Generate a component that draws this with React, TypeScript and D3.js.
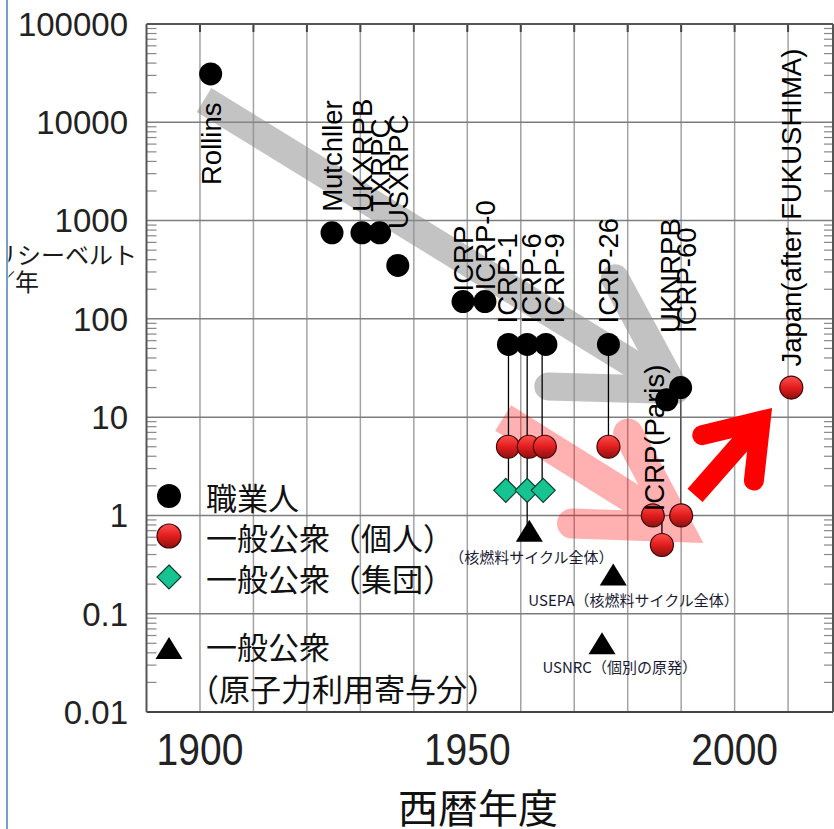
import React from "react";
import * as d3 from "d3";

const W = 834;
const H = 829;

// 職業人 (occupational limits)
const occNames = ["Rollins", "Mutchller", "UKXRPB", "TXRPC", "USXRPC", "ICRP", "ICRP-0", "ICRP-1", "ICRP-6", "ICRP-9", "ICRP-26", "UKNRPB", "ICRP-60"];
const occYears = [1902, 1924.7, 1930.3, 1933.6, 1937, 1949.2, 1953.3, 1957.7, 1961.2, 1964.7, 1976.4, 1987.3, 1989.9];
const occValues = [31000, 750, 750, 750, 350, 150, 150, 55, 55, 55, 55, 15, 20];

// 一般公衆（個人）
const pubNames = ["ICRP-1", "ICRP-6", "ICRP-9", "ICRP-26", "ICRP(Paris)", "UKNRPB", "ICRP-60", "Japan"];
const pubYears = [1957.6, 1961.5, 1964.5, 1976.4, 1984.7, 1986.4, 1990, 2010.6];
const pubValues = [5, 5, 5, 5, 1, 0.5, 1, 20];

// 一般公衆（集団）
const colYears = [1957.2, 1961.2, 1964.2];
const colValues = [1.8, 1.8, 1.8];

// 一般公衆（原子力利用寄与分）
const triNames = ["（核燃料サイクル全体）", "USEPA（核燃料サイクル全体）", "USNRC（個別の原発）"];
const triYears = [1961.6, 1977.3, 1975.2];
const triValues = [0.7, 0.25, 0.05];
const triLabelYears = [1962, 1981.1, 1978.5];
const triLabelValues = [0.38, 0.14, 0.029];

// connectors: year, from value, to value
const connYears = [1957.7, 1961.2, 1964.0, 1976.4, 1989.9, 1986.4];
const connFrom = [55, 55, 55, 55, 20, 1];
const connTo = [1.8, 0.7, 1.8, 5, 1, 0.5];

// rotated labels: text, year, value where text begins (null = just above point)
const labelTexts = ["Rollins", "Mutchller", "UKXRPB", "TXRPC", "USXRPC", "ICRP", "ICRP-0", "ICRP-1", "ICRP-6", "ICRP-9", "ICRP-26", "UKNRPB", "ICRP-60", "ICRP(Paris)", "Japan(after FUKUSHIMA)"];
const labelYears = [1902, 1924.7, 1930.3, 1933.6, 1937, 1949.2, 1953.3, 1957.5, 1962, 1966.3, 1976.4, 1987.9, 1990.9, 1985, 2010.6];
const labelPointValues = [31000, 750, 750, 750, 350, 150, 150, 55, 55, 55, 55, 15, 20, 1, 20];
const labelStarts: (number | null)[] = [2300, null, null, null, 820, 190, 195, null, null, null, null, 72, 72, 1.1, null];

// trend arrows (year, value)
const arrowStarts = [[1900.76, 16870], [1956.7, 9.8], [1992.6, 1.6]];
const arrowTips = [[1988.9, 18.9], [1989.4, 0.76], [2004.85, 9.14]];
const arrowWidths = [28, 30, 20];
const arrowColors = ["#8c8c8c", "#ff0000", "#ff0000"];
const arrowOpacity = [0.52, 0.3, 1];
const arrowWing = [127, 106, 60];
const arrowAngle = [30, 30, 35];
const arrowJoin = ["round", "miter", "miter"];

const xTicks = [1900, 1950, 2000];
const yTicks = [100000, 10000, 1000, 100, 10, 1, 0.1, 0.01];
const yTickLabels = ["100000", "10000", "1000", "100", "10", "1", "0.1", "0.01"];
const gridYears = d3.range(1900, 2011, 10);

const legendLabels = ["職業人", "一般公衆（個人）", "一般公衆（集団）", "一般公衆", "（原子力利用寄与分）"];

const x = d3.scaleLinear().domain([1890, 2018.4]).range([146.5, 833]);
const y = d3.scaleLog().domain([0.01, 100000]).range([712, 24]);

const LATIN = "'Liberation Sans', Arial, Helvetica, sans-serif";
const CJK = "'Noto Sans CJK JP', 'Noto Sans', sans-serif";

function arrowGeom(i: number) {
  const s = [x(arrowStarts[i][0]), y(arrowStarts[i][1])];
  const t = [x(arrowTips[i][0]), y(arrowTips[i][1])];
  const dx = s[0] - t[0];
  const dy = s[1] - t[1];
  const len = Math.hypot(dx, dy);
  const ux = dx / len;
  const uy = dy / len;
  const a = (arrowAngle[i] * Math.PI) / 180;
  const L = arrowWing[i];
  const w1 = [t[0] + L * (ux * Math.cos(a) - uy * Math.sin(a)), t[1] + L * (ux * Math.sin(a) + uy * Math.cos(a))];
  const w2 = [t[0] + L * (ux * Math.cos(-a) - uy * Math.sin(-a)), t[1] + L * (ux * Math.sin(-a) + uy * Math.cos(-a))];
  return {
    shaft: `M${s[0]},${s[1]}L${t[0]},${t[1]}`,
    head: `M${w1[0]},${w1[1]}L${t[0]},${t[1]}L${w2[0]},${w2[1]}`,
  };
}

function Arrow({ i }: { i: number }) {
  const g = arrowGeom(i);
  return (
    <g opacity={arrowOpacity[i]}>
      <path d={g.shaft} stroke={arrowColors[i]} strokeWidth={arrowWidths[i]} fill="none" strokeLinecap="butt" />
      <path d={g.head} stroke={arrowColors[i]} strokeWidth={arrowWidths[i]} fill="none" strokeLinecap="round" strokeLinejoin={arrowJoin[i] as any} strokeMiterlimit={6} />
    </g>
  );
}

const triPath = (cx: number, cy: number) => `M${cx},${cy - 11}L${cx + 13.5},${cy + 11}L${cx - 13.5},${cy + 11}Z`;
const diaPath = (cx: number, cy: number) => `M${cx},${cy - 12}L${cx + 12},${cy}L${cx},${cy + 12}L${cx - 12},${cy}Z`;

export default function App() {
  const minorVals: number[] = [];
  for (let e = -2; e <= 4; e++) for (let m = 2; m <= 9; m++) minorVals.push(m * Math.pow(10, e));

  return (
    <div style={{ position: "absolute", left: 0, top: 0, width: W, height: H, overflow: "hidden", background: "#fff" }}>
      <svg width={W} height={H} style={{ display: "block" }}>
        <defs>
          <linearGradient id="redGrad" x1="0" y1="0" x2="0" y2="1">
            <stop offset="0" stopColor="#ff5050" />
            <stop offset="0.5" stopColor="#e21d1d" />
            <stop offset="1" stopColor="#8e1010" />
          </linearGradient>
          <clipPath id="leftClip">
            <rect x={8.5} y={0} width={300} height={H} />
          </clipPath>
        </defs>
        <rect x={0} y={0} width={W} height={H} fill="#fff" />
        <line x1={7} x2={7} y1={0} y2={H} stroke="#4a7ebb" strokeWidth={1.5} />

        {/* grid */}
        {gridYears.map((yr) => (
          <line key={"vg" + yr} x1={x(yr)} x2={x(yr)} y1={24} y2={712} stroke="#a3a3a3" strokeWidth={1.5} />
        ))}
        {yTicks.slice(1, -1).map((v) => (
          <line key={"hg" + v} x1={146.5} x2={833} y1={y(v)} y2={y(v)} stroke="#7d7d7d" strokeWidth={1.5} />
        ))}
        {minorVals.map((v) => (
          <g key={"mt" + v}>
            <line x1={146.5} x2={156.5} y1={y(v)} y2={y(v)} stroke="#888" strokeWidth={1.2} />
            <line x1={833} x2={824} y1={y(v)} y2={y(v)} stroke="#888" strokeWidth={1.2} />
          </g>
        ))}
        {gridYears.map((yr) => (
          <line key={"tt" + yr} x1={x(yr)} x2={x(yr)} y1={24} y2={32} stroke="#444" strokeWidth={2} />
        ))}
        {/* frame */}
        <line x1={146.5} x2={833} y1={24} y2={24} stroke="#555" strokeWidth={2} />
        <line x1={146.5} x2={833} y1={712} y2={712} stroke="#444" strokeWidth={2} />
        <line x1={146.5} x2={146.5} y1={24} y2={712} stroke="#555" strokeWidth={2} />
        <line x1={833} x2={833} y1={24} y2={712} stroke="#555" strokeWidth={2} />

        {/* trend arrows behind markers */}
        <Arrow i={0} />
        <Arrow i={1} />
        <Arrow i={2} />

        {/* connectors */}
        {connYears.map((yr, i) => (
          <line key={"c" + i} x1={x(yr)} x2={x(yr)} y1={y(connFrom[i])} y2={y(connTo[i])} stroke={i === 4 ? "#555" : "#000"} strokeWidth={1.3} />
        ))}

        {/* markers */}
        {occYears.map((yr, i) => (
          <circle key={"o" + i} cx={x(yr)} cy={y(occValues[i])} r={11.5} fill="#000" />
        ))}
        {pubYears.map((yr, i) => (
          <circle key={"p" + i} cx={x(yr)} cy={y(pubValues[i])} r={11.5} fill="url(#redGrad)" stroke="#3a0606" strokeWidth={1.2} />
        ))}
        {colYears.map((yr, i) => (
          <path key={"d" + i} d={diaPath(x(yr), y(colValues[i]))} fill="#16c492" stroke="#0a3d2c" strokeWidth={1.2} />
        ))}
        {triYears.map((yr, i) => (
          <path key={"t" + i} d={triPath(x(yr), y(triValues[i]))} fill="#000" />
        ))}
        {triNames.map((t, i) => (
          <text key={"tl" + i} x={x(triLabelYears[i])} y={y(triLabelValues[i])} fontFamily={CJK} fontSize={15} fill="#1a1a33" textAnchor="middle" dominantBaseline="central">
            {t}
          </text>
        ))}

        {/* rotated labels */}
        {labelTexts.map((t, i) => {
          const cx = x(labelYears[i]) + 10;
          const sv = labelStarts[i];
          const sy = sv === null ? y(labelPointValues[i]) - 21 : y(sv);
          return (
            <text key={"l" + i} transform={`translate(${cx},${sy}) rotate(-90)`} fontFamily={LATIN} fontSize={27.5} fill="#000">
              {t}
            </text>
          );
        })}

        {/* axis tick labels */}
        {yTicks.map((v, i) => (
          <text key={"yl" + v} x={128} y={y(v)} dy="0.36em" textAnchor="end" fontFamily={LATIN} fontSize={33} fill="#222">
            {yTickLabels[i]}
          </text>
        ))}
        {xTicks.map((yr) => (
          <text key={"xl" + yr} transform={`translate(${x(yr)},765) scale(1,1.14)`} textAnchor="middle" fontFamily={LATIN} fontSize={39} fill="#222">
            {yr}
          </text>
        ))}
        <text x={478} y={823} textAnchor="middle" fontFamily={CJK} fontSize={40} fill="#111">
          西暦年度
        </text>
        <g clipPath="url(#leftClip)">
          <text x={137} y={253} textAnchor="end" dominantBaseline="central" fontFamily={CJK} fontSize={24} fill="#1a1a1a">
            ミリシーベルト
          </text>
          <text x={39} y={280} textAnchor="end" dominantBaseline="central" fontFamily={CJK} fontSize={24} fill="#1a1a1a">
            ／年
          </text>
        </g>

        {/* legend */}
        <circle cx={169} cy={496} r={12} fill="#000" />
        <circle cx={169} cy={536} r={12} fill="url(#redGrad)" stroke="#3a0606" strokeWidth={1.2} />
        <path d={diaPath(169, 577)} fill="#16c492" stroke="#0a3d2c" strokeWidth={1.2} />
        <path d={triPath(169, 648)} fill="#000" />
        {[496, 536, 577, 645].map((cy, i) => (
          <text key={"lg" + i} x={206} y={cy} dominantBaseline="central" fontFamily={CJK} fontSize={31} fill="#111">
            {legendLabels[i]}
          </text>
        ))}
        <text x={188} y={687} dominantBaseline="central" fontFamily={CJK} fontSize={31} fill="#111">
          {legendLabels[4]}
        </text>
      </svg>
    </div>
  );
}
